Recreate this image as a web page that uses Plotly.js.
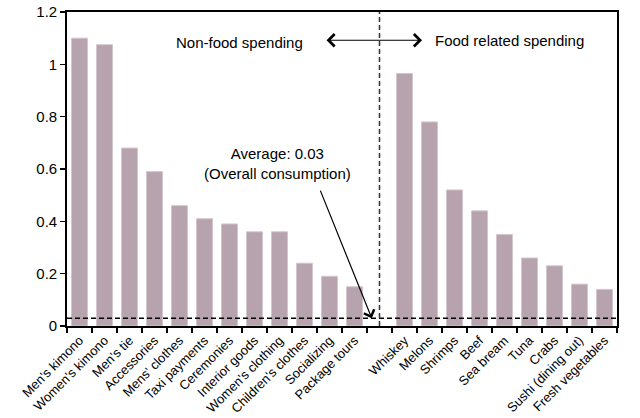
<!DOCTYPE html>
<html>
<head>
<meta charset="utf-8">
<script src="https://cdn.plot.ly/plotly-3.0.1.min.js"></script>
<style>html,body{margin:0;padding:0;background:#fff;}#chart{width:640px;height:418px;}</style>
</head>
<body>
<div id="chart"></div>
<script>
const nonFoodCategories = ["Men's kimono","Women's kimono","Men's tie","Accessories","Mens' clothes","Taxi payments","Ceremonies","Interior goods","Women's clothing","Children's clothes","Socializing","Package tours"];
const nonFoodValues = [1.10,1.075,0.68,0.59,0.46,0.41,0.39,0.36,0.36,0.24,0.19,0.15];
const gapCategory = " ";
const foodCategories = ["Whiskey","Melons","Shrimps","Beef","Sea bream","Tuna","Crabs","Sushi (dining out)","Fresh vegetables"];
const foodValues = [0.965,0.78,0.52,0.44,0.35,0.26,0.23,0.16,0.14];
const averageValue = 0.03;
const yTickValues = [0,0.2,0.4,0.6,0.8,1,1.2];

const categories = nonFoodCategories.concat([gapCategory], foodCategories);
const values = nonFoodValues.concat([null], foodValues);
const font = "Arial, 'Liberation Sans', sans-serif";

const trace = {
  type: "bar",
  x: categories,
  y: values,
  marker: {color: "#b7a3ad", line: {color: "#d4c6cd", width: 1}},
  hoverinfo: "x+y"
};

const layout = {
  width: 640, height: 418,
  margin: {l: 67, r: 23, t: 12, b: 92},
  paper_bgcolor: "#ffffff", plot_bgcolor: "#ffffff",
  showlegend: false,
  bargap: 0.36,
  font: {family: font, color: "#000", size: 15},
  xaxis: {
    type: "category",
    categoryorder: "array", categoryarray: categories,
    tickangle: -45,
    tickfont: {family: font, size: 13, color: "#000"},
    ticks: "outside", tickson: "boundaries", ticklen: 5, tickwidth: 1.5, tickcolor: "#000",
    showline: true, linecolor: "#000", linewidth: 1.8, mirror: true,
    showgrid: false, zeroline: false, fixedrange: true
  },
  yaxis: {
    range: [0, 1.2],
    tickvals: yTickValues,
    ticktext: yTickValues.map(v => String(v)),
    tickfont: {family: font, size: 15, color: "#000"},
    ticks: "outside", ticklen: 5, tickwidth: 1.5, tickcolor: "#000",
    showline: true, linecolor: "#000", linewidth: 1.8, mirror: true,
    showgrid: false, zeroline: false, fixedrange: true
  },
  shapes: [
    {type: "line", xref: "paper", yref: "y", x0: 0, x1: 1, y0: averageValue, y1: averageValue,
     line: {color: "#000", width: 1.5, dash: "5px,3px"}},
    {type: "line", xref: "x", yref: "paper", x0: gapCategory, x1: gapCategory, y0: 0, y1: 1,
     line: {color: "#333", width: 1.5, dash: "5px,3px"}}
  ],
  annotations: [
    {xref: "paper", yref: "paper", x: 0.3145, y: 0.904, text: "Non-food spending", showarrow: false,
     font: {family: font, size: 15, color: "#000"}, xanchor: "center", yanchor: "middle"},
    {xref: "paper", yref: "paper", x: 0.6655, y: 0.91, text: "Food related spending", showarrow: false,
     font: {family: font, size: 15, color: "#000"}, xanchor: "left", yanchor: "middle"},
    {xref: "paper", yref: "paper", x: 0.6455, y: 0.91, text: "", showarrow: true,
     ax: -97, ay: 0, arrowside: "end+start", arrowhead: 4, startarrowhead: 4, arrowsize: 2, startarrowsize: 2,
     arrowwidth: 1.2, arrowcolor: "#000"},
    {xref: "paper", yref: "paper", x: 0.3836, y: 0.516, text: "Average: 0.03<br>(Overall consumption)", showarrow: false,
     font: {family: font, size: 15, color: "#000"}, xanchor: "center", yanchor: "middle"},
    {xref: "x", yref: "y", x: 11.69, y: averageValue, text: "", showarrow: true,
     ax: -52, ay: -129, arrowhead: 4, arrowsize: 1.8, arrowwidth: 1.2, arrowcolor: "#000"}
  ]
};

Plotly.newPlot("chart", [trace], layout, {displayModeBar: false, staticPlot: true});
</script>
</body>
</html>
